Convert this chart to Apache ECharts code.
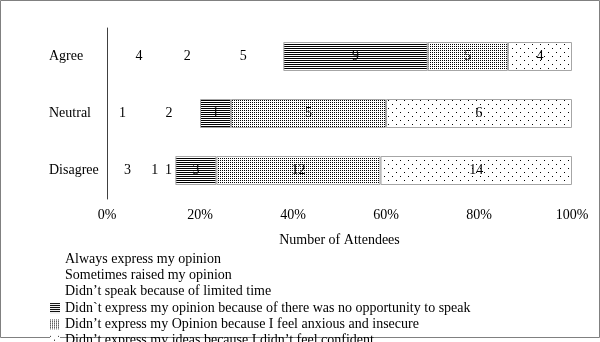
<!DOCTYPE html>
<html>
<head>
<meta charset="utf-8">
<script src="https://cdn.jsdelivr.net/npm/echarts@6/dist/echarts.min.js"></script>
<style>
  html, body { margin: 0; padding: 0; background: #fff; }
  #chart { width: 600px; height: 342px; }
</style>
</head>
<body>
<div id="chart"></div>
<script>
// Response groups (top to bottom)
const categories = ['Agree', 'Neutral', 'Disagree'];

// Series names, in stacking order
const seriesNames = [
  'Always express my opinion',
  'Sometimes raised my opinion',
  'Didn\u2019t speak because of limited time',
  'Didn`t express my opinion because of there was no opportunity to speak',
  'Didn\u2019t express my Opinion because I feel anxious and insecure',
  'Didn\u2019t express my ideas because I didn\u2019t feel confident'
];

// Number of attendees per group, one array per series
const alwaysExpress   = [4, 1, 3];
const sometimesRaised = [2, 2, 1];
const limitedTime     = [5, 0, 1];
const noOpportunity   = [9, 1, 3];
const anxious         = [5, 5, 12];
const notConfident    = [4, 6, 14];

const tickLabels = ['0%', '20%', '40%', '60%', '80%', '100%'];

const counts = [alwaysExpress, sometimesRaised, limitedTime, noOpportunity, anxious, notConfident];

// Per-group totals, used to turn counts into shares of 100%
const totals = categories.map((_, i) => counts.reduce((s, arr) => s + arr[i], 0));

// Fill patterns drawn on small tiles
function makeTile(w, h, draw) {
  const c = document.createElement('canvas');
  c.width = w; c.height = h;
  const ctx = c.getContext('2d');
  ctx.fillStyle = '#fff';
  ctx.fillRect(0, 0, w, h);
  ctx.fillStyle = '#000';
  draw(ctx);
  return { image: c, repeat: 'repeat' };
}
const hLines = makeTile(2, 2, ctx => ctx.fillRect(0, 0, 2, 1));
const fineDots = makeTile(2, 2, ctx => ctx.fillRect(0, 0, 1, 1));
const sparseDots = makeTile(8, 8, ctx => { ctx.fillRect(0, 0, 1, 1); ctx.fillRect(4, 4, 1, 1); });

const fills = [null, null, null, hLines, fineDots, sparseDots];

const font = 'Liberation Serif';

const series = seriesNames.map((name, s) => {
  const patterned = fills[s] !== null;
  return {
    name: name,
    type: 'bar',
    stack: 'total',
    barWidth: 29,
    data: counts[s].map((v, i) => ({ value: v / totals[i] * 100, count: v })),
    itemStyle: patterned
      ? { color: fills[s], borderColor: '#a6a6a6', borderWidth: 1 }
      : { color: 'rgba(255,255,255,0)', borderWidth: 0 },
    label: {
      show: true,
      position: 'inside',
      color: '#000',
      fontFamily: font,
      fontSize: 14,
      formatter: p => (p.data.count ? String(p.data.count) : '')
    },
    emphasis: { disabled: true }
  };
});

const chart = echarts.init(document.getElementById('chart'), null, { renderer: 'canvas' });
chart.setOption({
  animation: false,
  backgroundColor: '#fff',
  textStyle: { fontFamily: font },
  grid: { left: 107, right: 28, top: 28, height: 171, containLabel: false },
  xAxis: {
    type: 'value',
    min: 0,
    max: 100,
    interval: 20,
    name: 'Number of Attendees',
    nameLocation: 'middle',
    nameGap: 34,
    nameTextStyle: { color: '#000', fontFamily: font, fontSize: 14 },
    axisLine: { show: false },
    axisTick: { show: false },
    splitLine: { show: false },
    axisLabel: {
      color: '#000', fontFamily: font, fontSize: 14, margin: 9,
      formatter: v => tickLabels[Math.round(v / 20)]
    }
  },
  yAxis: {
    type: 'category',
    inverse: true,
    data: categories,
    axisLine: { show: true, lineStyle: { color: '#404040', width: 1 } },
    axisTick: { show: false },
    axisLabel: { color: '#000', fontFamily: font, fontSize: 14, align: 'left', margin: 58 }
  },
  legend: {
    orient: 'vertical',
    left: 45,
    top: 246,
    height: 140,
    itemWidth: 10,
    itemHeight: 10,
    itemGap: 0,
    icon: 'rect',
    selectedMode: false,
    itemStyle: { borderWidth: 0 },
    textStyle: { color: '#000', fontFamily: font, fontSize: 14, lineHeight: 16.3 },
    data: seriesNames
  },
  graphic: [{
    type: 'rect',
    z: -1,
    shape: { x: 0.5, y: 0.5, width: 599, height: 337 },
    style: { fill: 'none', stroke: '#808080', lineWidth: 1 },
    silent: true
  }],
  series: series
});
</script>
</body>
</html>
